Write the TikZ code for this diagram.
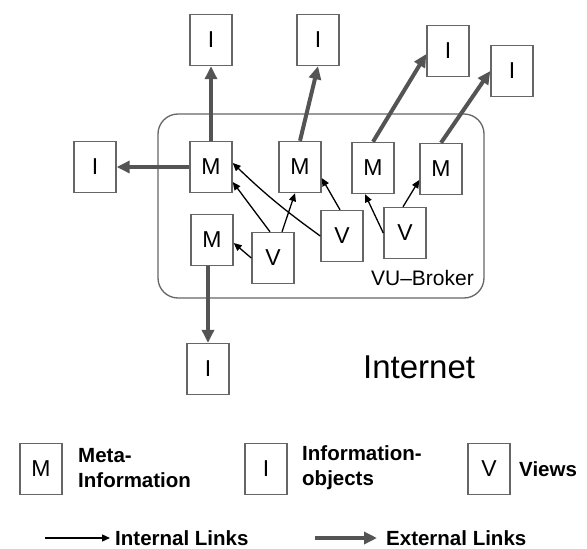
\documentclass[tikz,border=0pt]{standalone}
\usepackage{fontspec}
\setmainfont{Liberation Sans}
\usetikzlibrary{arrows.meta}
\definecolor{boxgray}{gray}{0.4}
\definecolor{extgray}{gray}{0.33}
\tikzset{
  box/.style={draw=boxgray, line width=1.4pt, minimum width=42pt, minimum height=51pt, inner sep=0pt,
    font=\fontsize{23}{26}\selectfont},
  intlink/.style={black, line width=1.3pt, -{Triangle[length=8pt,width=7pt]}},
  extlink/.style={extgray, line width=4pt, -{Triangle[length=13pt,width=12pt]}},
  legtext/.style={anchor=west, align=left, inner sep=0pt, font=\fontsize{20.5}{25}\selectfont\bfseries},
  broker/.style={draw=boxgray, line width=1.3pt, rounded corners=20pt}
}
\begin{document}
\begin{tikzpicture}[x=1pt,y=-1pt]
\useasboundingbox (0,0) rectangle (587,549);
% broker frame
\draw[broker] (158,114) rectangle (484,298);
\node[anchor=base east, inner sep=0pt, font=\fontsize{21}{24}\selectfont] (vub) at (474,285) {VU--Broker};
% information objects
\node[box] (I1) at (211,40) {I};
\node[box] (I2) at (318,40) {I};
\node[box] (I3) at (448,51) {I};
\node[box] (I4) at (512,71) {I};
\node[box] (Il) at (95,167) {I};
\node[box] (Ib) at (208,369) {I};
% meta
\node[box] (M1) at (211,167) {M};
\node[box] (M2) at (300,167) {M};
\node[box] (M3) at (373,168) {M};
\node[box] (M4) at (441,169) {M};
\node[box] (M5) at (212,240) {M};
% views
\node[box] (V1) at (273,258) {V};
\node[box] (V2) at (342,236) {V};
\node[box] (V3) at (405,233) {V};
% internal links
\draw[intlink] ([xshift=-3pt]V1.north) -- ([yshift=-15pt]M1.east);
\draw[intlink] ([xshift=9pt]V1.north) -- ([xshift=-5pt]M2.south);
\draw[intlink] (V2.west) to[bend left=4] ([yshift=4pt]M1.east);
\draw[intlink] ([xshift=-2pt]V2.north) -- ([yshift=-11pt]M2.east);
\draw[intlink] (V1.west) -- ([yshift=-3pt]M5.east);
\draw[intlink] (V3.west) -- ([xshift=-8pt]M3.south);
\draw[intlink] ([xshift=-2pt]V3.north) -- ([yshift=-11pt]M4.west);
% external links
\draw[extlink] (M1.north) -- (I1.south);
\draw[extlink] (M2.north) -- (I2.south);
\draw[extlink] (M3.north) -- ([yshift=-3pt]I3.west);
\draw[extlink] (M4.north) -- (I4.west);
\draw[extlink] (M1.west) -- (Il.east);
\draw[extlink] (M5.south -| Ib.north) -- (Ib.north);
% Internet
\node[anchor=base west, inner sep=0pt, font=\fontsize{33}{36}\selectfont] (inet) at (363,378) {Internet};
% legend
\node[box] (LM) at (41,469) {M};
\node[legtext] (LMt) at (78,468) {Meta-\\Information};
\node[box] (LI) at (266,469) {I};
\node[legtext] (LIt) at (302,468) {Information-\\objects};
\node[box] (LV) at (489,469) {V};
\node[legtext] (LVt) at (519,469) {Views};
\coordinate (a1) at (45,538);
\coordinate (a2) at (110,538);
\draw[intlink] (a1) -- (a2);
\node[legtext] (LIL) at (115,538) {Internal Links};
\coordinate (b1) at (315,538);
\coordinate (b2) at (377,538);
\draw[extlink] (b1) -- (b2);
\node[legtext] (LEL) at (386,538) {External Links};
\end{tikzpicture}
\end{document}
